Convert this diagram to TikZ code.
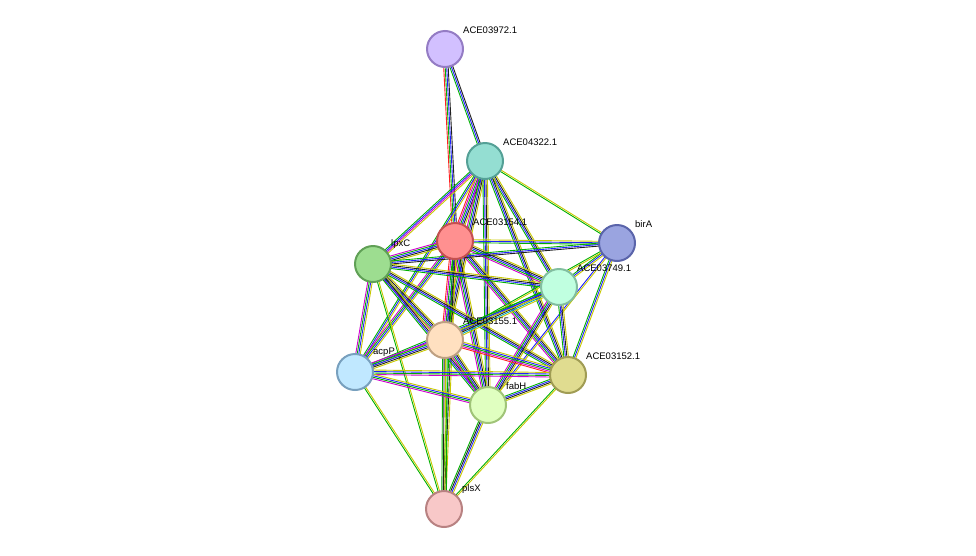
\documentclass[tikz,border=0pt]{standalone}
\usepackage{fontspec}
\setmainfont{Liberation Sans}
\usetikzlibrary{calc}
\pgfdeclarelayer{bg}
\pgfsetlayers{bg,main}
\definecolor{cY}{HTML}{C8C800}
\definecolor{cG}{HTML}{00B000}
\definecolor{cB}{HTML}{2020FF}
\definecolor{cK}{HTML}{202020}
\definecolor{cM}{HTML}{D000D0}
\definecolor{cR}{HTML}{FF2020}
\definecolor{cC}{HTML}{00A0C0}
\newcommand\edgebundle[4]{%
  \foreach \cc [count=\ii] in {#4} {
    \pgfmathsetmacro\oo{(\ii-(#3+1)/2)*1.5}
    \draw[\cc,line width=0.9pt] ($(#1.center)!\oo pt!90:(#2.center)$) -- ($(#2.center)!\oo pt!-90:(#1.center)$);
  }}
\tikzset{
  prot/.style={circle,minimum size=36pt,inner sep=0pt,line width=2pt},
  lab/.style={font=\fontsize{9.5}{11}\selectfont,anchor=south west,inner sep=1pt}
}
\begin{document}
\begin{tikzpicture}[x=1pt,y=-1pt]
\useasboundingbox (0,0) rectangle (976,555);
\node[prot,fill={rgb,255:red,210;green,192;blue,255},draw={rgb,255:red,148;green,124;blue,196}] (n1) at (445,49) {};
\node[prot,fill={rgb,255:red,148;green,222;blue,210},draw={rgb,255:red,84;green,160;blue,150}] (n2) at (485,161) {};
\node[prot,fill={rgb,255:red,255;green,144;blue,144},draw={rgb,255:red,196;green,80;blue,80}] (n3) at (455,241) {};
\node[prot,fill={rgb,255:red,154;green,164;blue,224},draw={rgb,255:red,90;green,100;blue,170}] (n4) at (617,243) {};
\node[prot,fill={rgb,255:red,157;green,221;blue,144},draw={rgb,255:red,96;green,160;blue,86}] (n5) at (373,264) {};
\node[prot,fill={rgb,255:red,192;green,255;blue,224},draw={rgb,255:red,130;green,190;blue,160}] (n6) at (559,287) {};
\node[prot,fill={rgb,255:red,255;green,224;blue,192},draw={rgb,255:red,190;green,160;blue,130}] (n7) at (445,340) {};
\node[prot,fill={rgb,255:red,192;green,232;blue,255},draw={rgb,255:red,120;green,160;blue,190}] (n8) at (355,372) {};
\node[prot,fill={rgb,255:red,224;green,220;blue,144},draw={rgb,255:red,160;green,156;blue,84}] (n9) at (568,375) {};
\node[prot,fill={rgb,255:red,224;green,255;blue,192},draw={rgb,255:red,160;green,196;blue,120}] (n10) at (488,405) {};
\node[prot,fill={rgb,255:red,248;green,200;blue,200},draw={rgb,255:red,184;green,130;blue,130}] (n11) at (444,509) {};
\node[lab] at (462,35) {ACE03972.1};
\node[lab] at (502,147) {ACE04322.1};
\node[lab] at (472,227) {ACE03154.1};
\node[lab] at (634,229) {birA};
\node[lab] at (390,250) {lpxC};
\node[lab] at (576,273) {ACE03749.1};
\node[lab] at (462,326) {ACE03155.1};
\node[lab] at (372,358) {acpP};
\node[lab] at (585,361) {ACE03152.1};
\node[lab] at (505,391) {fabH};
\node[lab] at (461,495) {plsX};
\begin{pgfonlayer}{bg}
\edgebundle{n1}{n2}{3}{cG,cB,cK}
\edgebundle{n1}{n3}{4}{cR,cG,cB,cK}
\edgebundle{n2}{n3}{6}{cR,cM,cG,cB,cK,cY}
\edgebundle{n2}{n5}{4}{cG,cB,cM,cY}
\edgebundle{n2}{n4}{2}{cG,cY}
\edgebundle{n2}{n6}{4}{cG,cB,cK,cY}
\edgebundle{n2}{n7}{5}{cM,cG,cB,cK,cY}
\edgebundle{n2}{n8}{3}{cG,cB,cY}
\edgebundle{n2}{n9}{4}{cG,cB,cK,cY}
\edgebundle{n2}{n10}{4}{cG,cB,cK,cY}
\edgebundle{n3}{n5}{5}{cM,cG,cB,cK,cY}
\edgebundle{n3}{n4}{3}{cG,cB,cY}
\edgebundle{n3}{n6}{5}{cM,cG,cB,cK,cY}
\edgebundle{n3}{n7}{6}{cR,cM,cG,cB,cK,cY}
\edgebundle{n3}{n8}{4}{cM,cG,cB,cY}
\edgebundle{n3}{n9}{5}{cM,cG,cB,cK,cY}
\edgebundle{n3}{n10}{5}{cM,cG,cB,cK,cY}
\edgebundle{n3}{n11}{3}{cG,cK,cY}
\edgebundle{n4}{n5}{3}{cG,cB,cK}
\edgebundle{n4}{n6}{3}{cG,cB,cY}
\edgebundle{n4}{n9}{3}{cG,cB,cY}
\edgebundle{n4}{n7}{2}{cG,cY}
\edgebundle{n4}{n10}{2}{cB,cY}
\edgebundle{n5}{n6}{4}{cG,cB,cK,cY}
\edgebundle{n5}{n7}{5}{cM,cG,cB,cK,cY}
\edgebundle{n5}{n8}{4}{cM,cG,cB,cY}
\edgebundle{n5}{n9}{4}{cG,cB,cK,cY}
\edgebundle{n5}{n10}{4}{cG,cB,cK,cY}
\edgebundle{n5}{n11}{2}{cG,cY}
\edgebundle{n6}{n7}{5}{cG,cB,cK,cC,cY}
\edgebundle{n6}{n8}{3}{cG,cB,cY}
\edgebundle{n6}{n9}{4}{cG,cB,cK,cY}
\edgebundle{n6}{n10}{5}{cM,cG,cB,cK,cY}
\edgebundle{n7}{n8}{5}{cM,cG,cB,cK,cY}
\edgebundle{n7}{n9}{5}{cR,cM,cG,cB,cY}
\edgebundle{n7}{n10}{5}{cM,cG,cB,cK,cY}
\edgebundle{n7}{n11}{4}{cG,cK,cY,cG}
\edgebundle{n8}{n9}{4}{cM,cG,cB,cY}
\edgebundle{n8}{n10}{4}{cM,cG,cB,cY}
\edgebundle{n8}{n11}{2}{cG,cY}
\edgebundle{n9}{n10}{4}{cG,cB,cK,cY}
\edgebundle{n9}{n11}{2}{cG,cY}
\edgebundle{n10}{n11}{4}{cG,cK,cB,cY}
\end{pgfonlayer}
\end{tikzpicture}
\end{document}
